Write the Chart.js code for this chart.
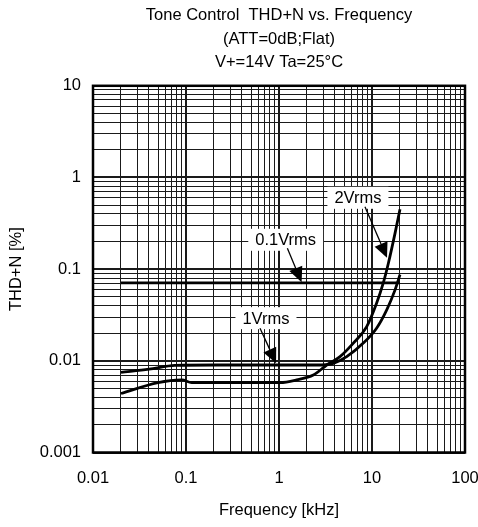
<!DOCTYPE html>
<html>
<head>
<meta charset="utf-8">
<script src="https://cdn.jsdelivr.net/npm/chart.js@4/dist/chart.umd.min.js"></script>
<style>
  html, body { margin: 0; padding: 0; background: #fff; }
  #wrap { width: 478px; height: 527px; }
</style>
</head>
<body>
<div id="wrap"><canvas id="grafico"></canvas></div>
<script>
// Dados (frequência em kHz, THD+N em %)
const freq01 = [0.02, 20];
const thd01 = [0.071, 0.071];

const freq1 = [0.02, 0.04, 0.076, 0.2, 1, 2.5, 3.84, 5.35, 8.06, 11.2, 14.4, 17.7, 20];
const thd1 = [0.0075, 0.0081, 0.0089, 0.009, 0.009, 0.009, 0.0094, 0.0111, 0.0156, 0.0227, 0.036, 0.0594, 0.087];

const freq2 = [0.02, 0.05, 0.09, 0.115, 0.5, 1.03, 1.55, 2.34, 3.26, 4.53, 6.3, 8.77, 11.2, 13.2, 15, 17.7, 20];
const thd2 = [0.0044, 0.0058, 0.0062, 0.0058, 0.0058, 0.0058, 0.0062, 0.007, 0.009, 0.0111, 0.0156, 0.0236, 0.0425, 0.0703, 0.116, 0.247, 0.45];

const xTickLabels = ['0.01', '0.1', '1', '10', '100'];
const yTickLabels = ['0.001', '0.01', '0.1', '1', '10'];
const minorSteps = [1, 2, 3, 4, 5, 6, 7, 8, 9];

// rótulos com seta: texto, posição do texto, início e ponta da seta
const annotations = [
  { text: '2Vrms', at: [7.06, 0.60], from: [8.4, 0.48], to: [14.5, 0.133] },
  { text: '0.1Vrms', at: [1.18, 0.209], from: [1.23, 0.169], to: [1.75, 0.072] },
  { text: '1Vrms', at: [0.724, 0.0292], from: [0.625, 0.0227], to: [0.93, 0.0094] }
];

const FONT = "'Liberation Sans', Arial, sans-serif";

function pts(xs, ys) { return xs.map((x, i) => ({ x: x, y: ys[i] })); }

function logTicks(labels) {
  const ticks = [];
  const decades = labels.map(Number);
  decades.forEach((d, i) => {
    if (i === decades.length - 1) { ticks.push({ value: d }); return; }
    minorSteps.forEach(m => ticks.push({ value: +(d * m).toPrecision(3) }));
  });
  return ticks;
}

function isDecade(v) {
  const l = Math.log10(v);
  return Math.abs(l - Math.round(l)) < 1e-6;
}

const gridOpts = {
  color: '#1a1a1a',
  lineWidth: c => (c.tick && isDecade(c.tick.value)) ? 2 : 1,
  drawTicks: false
};

const framePlugin = {
  id: 'frame',
  afterDatasetsDraw(chart) {
    const { ctx, chartArea: a, scales: { x, y } } = chart;
    ctx.save();
    // rótulos e setas
    ctx.font = '16.5px ' + FONT;
    ctx.textAlign = 'center';
    ctx.textBaseline = 'middle';
    annotations.forEach(an => {
      const tx = x.getPixelForValue(an.at[0]), ty = y.getPixelForValue(an.at[1]);
      const w = ctx.measureText(an.text).width;
      ctx.fillStyle = '#fff';
      ctx.fillRect(tx - w / 2 - 7, ty - 11, w + 14, 22);
      ctx.fillStyle = '#000';
      ctx.fillText(an.text, tx, ty + 1);

      const x0 = x.getPixelForValue(an.from[0]), y0 = y.getPixelForValue(an.from[1]);
      const x1 = x.getPixelForValue(an.to[0]), y1 = y.getPixelForValue(an.to[1]);
      const ang = Math.atan2(y1 - y0, x1 - x0);
      const hl = 15, hw = 7;
      const bx = x1 - hl * Math.cos(ang), by = y1 - hl * Math.sin(ang);
      ctx.strokeStyle = '#000';
      ctx.lineWidth = 1.3;
      ctx.beginPath();
      ctx.moveTo(x0, y0);
      ctx.lineTo(bx, by);
      ctx.stroke();
      ctx.beginPath();
      ctx.moveTo(x1, y1);
      ctx.lineTo(bx + hw * Math.sin(ang), by - hw * Math.cos(ang));
      ctx.lineTo(bx - hw * Math.sin(ang), by + hw * Math.cos(ang));
      ctx.closePath();
      ctx.fill();
    });
    // moldura
    ctx.strokeStyle = '#000';
    ctx.lineWidth = 2.5;
    ctx.strokeRect(a.left, a.top, a.right - a.left, a.bottom - a.top);
    ctx.restore();
  }
};

const lineStyle = {
  borderColor: '#000',
  borderWidth: 2.8,
  pointRadius: 0,
  fill: false,
  cubicInterpolationMode: 'monotone'
};

const ctxThd = document.getElementById('grafico').getContext('2d');
new Chart(ctxThd, {
  type: 'line',
  data: {
    datasets: [
      Object.assign({ label: '0.1Vrms', data: pts(freq01, thd01) }, lineStyle),
      Object.assign({ label: '1Vrms', data: pts(freq1, thd1) }, lineStyle),
      Object.assign({ label: '2Vrms', data: pts(freq2, thd2) }, lineStyle)
    ]
  },
  options: {
    responsive: true,
    maintainAspectRatio: false,
    animation: false,
    devicePixelRatio: 1,
    layout: { padding: 0 },
    plugins: {
      legend: { display: false },
      tooltip: { enabled: false },
      title: {
        display: true,
        fullSize: false,
        text: ['Tone Control  THD+N vs. Frequency', '(ATT=0dB;Flat)', 'V+=14V Ta=25°C'],
        color: '#000',
        font: { family: FONT, size: 16.5, weight: 'normal', lineHeight: 1.42 },
        padding: { top: 4, bottom: 11.5 }
      }
    },
    scales: {
      x: {
        type: 'logarithmic',
        min: 0.01,
        max: 100,
        afterBuildTicks: s => { s.ticks = logTicks(xTickLabels); },
        afterFit: s => { s.height = 74.5; s.paddingRight = 13; s.paddingLeft = 0; },
        grid: gridOpts,
        border: { display: false },
        ticks: {
          autoSkip: false,
          maxRotation: 0,
          padding: 16,
          color: '#000',
          font: { family: FONT, size: 16.5 },
          callback: v => xTickLabels.includes(String(v)) ? String(v) : ''
        },
        title: {
          display: true,
          text: 'Frequency [kHz]',
          color: '#000',
          font: { family: FONT, size: 16.5, lineHeight: 1.2 },
          padding: { top: 0, bottom: 7 }
        }
      },
      y: {
        type: 'logarithmic',
        min: 0.001,
        max: 10,
        afterBuildTicks: s => { s.ticks = logTicks(yTickLabels); },
        afterFit: s => { s.width = 93; },
        grid: gridOpts,
        border: { display: false },
        ticks: {
          autoSkip: false,
          padding: 12,
          color: '#000',
          font: { family: FONT, size: 16.5 },
          callback: v => yTickLabels.includes(String(v)) ? String(v) : ''
        },
        title: {
          display: true,
          text: 'THD+N [%]',
          color: '#000',
          font: { family: FONT, size: 16.5, lineHeight: 1.2 },
          padding: { top: 6.5, bottom: 0 }
        }
      }
    }
  },
  plugins: [framePlugin]
});
</script>
</body>
</html>
